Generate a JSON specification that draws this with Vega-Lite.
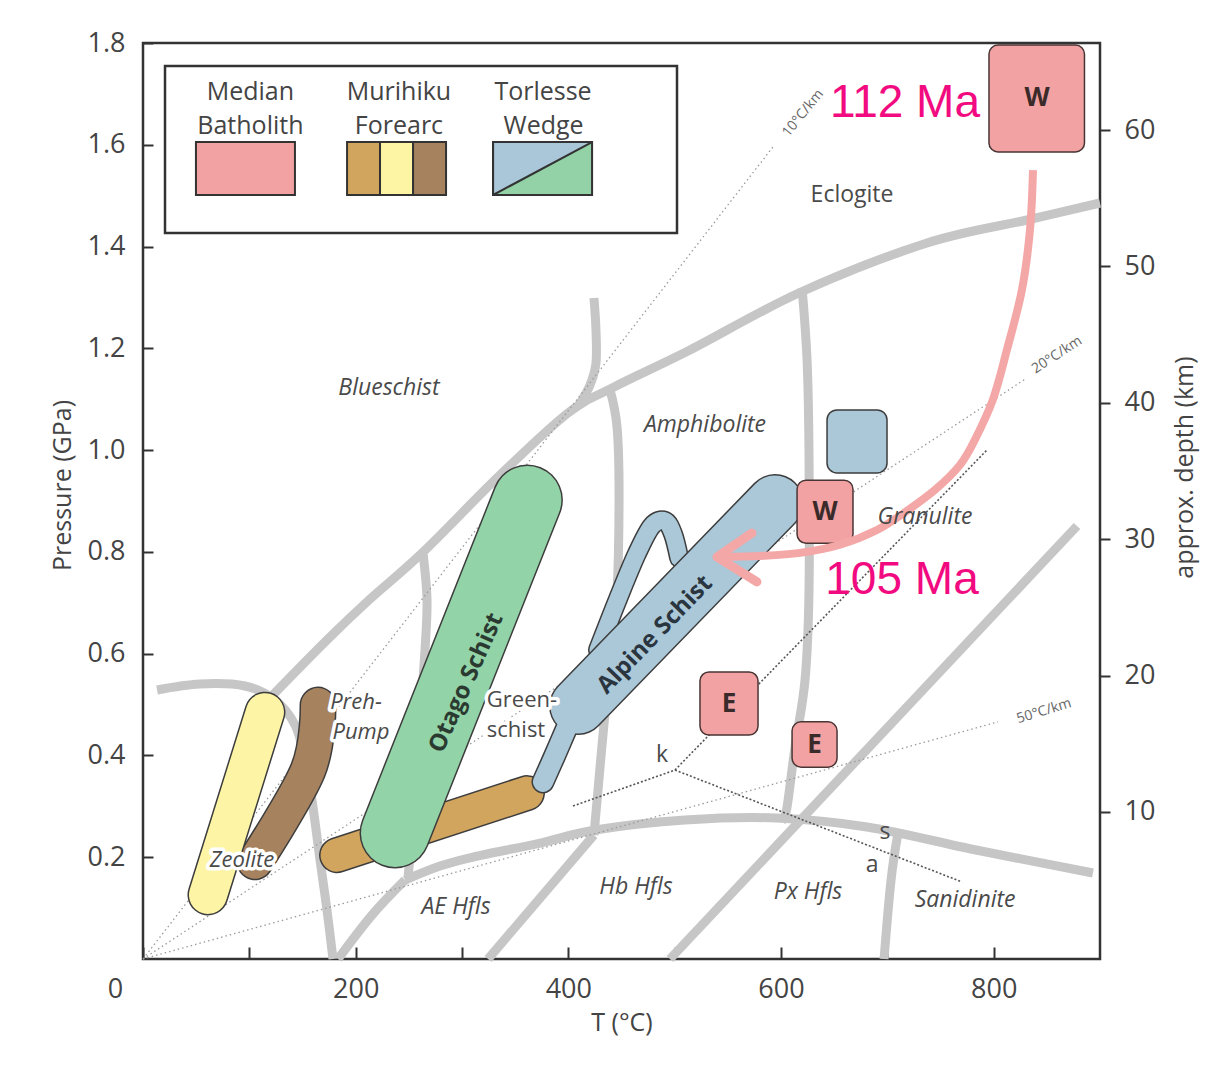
{
"$schema": "https://vega.github.io/schema/vega-lite/v6.json",
"width": 957, "height": 916,
"autosize": "none",
"padding": {"left": 143, "top": 43, "right": 122, "bottom": 106},
"background": "white",
"config": {"view": {"stroke": "#333333", "strokeWidth": 2.5}, "font": "Open Sans"},
"datasets": {
 "facies": [
  {"g":"G1","s":1,"T":13.2,"P":0.5286},{"g":"G1","s":2,"T":53.6,"P":0.5404},{"g":"G1","s":3,"T":95.9,"P":0.5365},{"g":"G1","s":4,"T":124.1,"P":0.5089},{"g":"G1","s":5,"T":143.0,"P":0.4598},{"g":"G1","s":6,"T":152.4,"P":0.391},{"g":"G1","s":7,"T":158.9,"P":0.3124},{"g":"G1","s":8,"T":166.5,"P":0.1945},{"g":"G1","s":9,"T":173.0,"P":0.0963},{"g":"G1","s":10,"T":178.7,"P":0},
  {"g":"G2","s":1,"T":119.4,"P":0.5129},{"g":"G2","s":2,"T":173.0,"P":0.6268},{"g":"G2","s":3,"T":212.5,"P":0.7054},{"g":"G2","s":4,"T":262.4,"P":0.7978},{"g":"G2","s":5,"T":334.8,"P":0.949},{"g":"G2","s":6,"T":399.7,"P":1.0729},{"g":"G2","s":7,"T":443.0,"P":1.124},{"g":"G2","s":8,"T":514.4,"P":1.1967},{"g":"G2","s":9,"T":618.8,"P":1.3107},{"g":"G2","s":10,"T":737.3,"P":1.407},{"g":"G2","s":11,"T":831.4,"P":1.4522},{"g":"G2","s":12,"T":900,"P":1.4856},
  {"g":"G3","s":1,"T":424.1,"P":1.2989},{"g":"G3","s":2,"T":426.0,"P":1.236},{"g":"G3","s":3,"T":426.0,"P":1.1712},{"g":"G3","s":4,"T":420.4,"P":1.1279},{"g":"G3","s":5,"T":410.0,"P":1.0886},
  {"g":"G4","s":1,"T":439.2,"P":1.1181},{"g":"G4","s":2,"T":445.8,"P":1.0454},{"g":"G4","s":3,"T":447.7,"P":0.9157},{"g":"G4","s":4,"T":445.8,"P":0.7192},{"g":"G4","s":5,"T":440.1,"P":0.5875},{"g":"G4","s":6,"T":434.5,"P":0.4834},{"g":"G4","s":7,"T":427.9,"P":0.3321},{"g":"G4","s":8,"T":424.1,"P":0.2437},
  {"g":"G4b","s":1,"T":424.1,"P":0.2437},{"g":"G4b","s":2,"T":324.5,"P":0},
  {"g":"G5","s":1,"T":246.4,"P":0.1552},{"g":"G5","s":2,"T":279.3,"P":0.1827},{"g":"G5","s":3,"T":310.4,"P":0.2004},{"g":"G5","s":4,"T":373.4,"P":0.2279},{"g":"G5","s":5,"T":425.1,"P":0.2535},{"g":"G5","s":6,"T":509.7,"P":0.2731},{"g":"G5","s":7,"T":595.3,"P":0.2771},{"g":"G5","s":8,"T":680.9,"P":0.2594},{"g":"G5","s":9,"T":783.4,"P":0.2142},{"g":"G5","s":10,"T":893.4,"P":0.169},
  {"g":"G6","s":1,"T":246.4,"P":0.1552},{"g":"G6","s":2,"T":215.4,"P":0.0865},{"g":"G6","s":3,"T":183.4,"P":0},
  {"g":"G7","s":1,"T":263.3,"P":0.7978},{"g":"G7","s":2,"T":267.1,"P":0.7054},{"g":"G7","s":3,"T":265.2,"P":0.6072},{"g":"G7","s":4,"T":260.5,"P":0.4696},{"g":"G7","s":5,"T":255.8,"P":0.3124},{"g":"G7","s":6,"T":249.2,"P":0.1592},
  {"g":"G8","s":1,"T":619.8,"P":1.3185},{"g":"G8","s":2,"T":624.5,"P":1.177},{"g":"G8","s":3,"T":626.3,"P":1.0002},{"g":"G8","s":4,"T":626.3,"P":0.7192},{"g":"G8","s":5,"T":622.6,"P":0.5482},{"g":"G8","s":6,"T":613.2,"P":0.4166},{"g":"G8","s":7,"T":605.7,"P":0.2987},{"g":"G8","s":8,"T":601.9,"P":0.2731},
  {"g":"G9","s":1,"T":878.4,"P":0.8509},{"g":"G9","s":2,"T":495.6,"P":0},
  {"g":"G10","s":1,"T":710.0,"P":0.247},{"g":"G10","s":2,"T":703.5,"P":0.1552},{"g":"G10","s":3,"T":696.9,"P":0}
 ],
 "geo": [
  {"g":"10","s":1,"T":0,"P":0},{"g":"10","s":2,"T":594,"P":1.6},
  {"g":"20","s":1,"T":0,"P":0},{"g":"20","s":2,"T":830,"P":1.14},
  {"g":"50","s":1,"T":0,"P":0},{"g":"50","s":2,"T":804,"P":0.466}
 ],
 "klines": [
  {"g":"K1","s":1,"T":404.4,"P":0.3006},{"g":"K1","s":2,"T":500.3,"P":0.3714},
  {"g":"K2","s":1,"T":500.3,"P":0.3714},{"g":"K2","s":2,"T":793.7,"P":1.0002},
  {"g":"K3","s":1,"T":500.3,"P":0.3714},{"g":"K3","s":2,"T":770.2,"P":0.1513}
 ],
 "shapes": [
  {"id":"tan","s":1,"T":182.5,"P":0.204},{"id":"tan","s":2,"T":361.1,"P":0.326},
  {"id":"green","s":1,"T":237.0,"P":0.2476},{"id":"green","s":2,"T":361.5,"P":0.902},
  {"id":"brown","s":1,"T":164.6,"P":0.499},{"id":"brown","s":2,"T":155.2,"P":0.371},{"id":"brown","s":3,"T":105.3,"P":0.191},
  {"id":"yellow","s":1,"T":114.7,"P":0.485},{"id":"yellow","s":2,"T":61.1,"P":0.126},
  {"id":"loop","s":1,"T":427.8,"P":0.607},{"id":"loop","s":2,"T":446.6,"P":0.707},{"id":"loop","s":3,"T":464.4,"P":0.796},{"id":"loop","s":4,"T":478.5,"P":0.851},{"id":"loop","s":5,"T":490.9,"P":0.861},{"id":"loop","s":6,"T":498.5,"P":0.835},{"id":"loop","s":7,"T":504.2,"P":0.788},
  {"id":"tail","s":1,"T":399.7,"P":0.46},{"id":"tail","s":2,"T":387.5,"P":0.401},{"id":"tail","s":3,"T":376.2,"P":0.348},
  {"id":"main","s":1,"T":409.1,"P":0.497},{"id":"main","s":2,"T":594.4,"P":0.896}
 ],
 "boxes": [
  {"id":"Wtop","T":795.6,"T2":885.4,"P":1.796,"P2":1.586},
  {"id":"Wmid","T":615.1,"T2":667.7,"P":0.941,"P2":0.817},
  {"id":"E1","T":523.8,"T2":578.4,"P":0.564,"P2":0.44},
  {"id":"E2","T":610.4,"T2":652.7,"P":0.466,"P2":0.377}
 ],
 "tbox": [{"T":643.3,"T2":699.7,"P":1.079,"P2":0.955}],
 "boxlabels": [
  {"text":"W","T":840.8,"P":1.691},{"text":"W","T":641.4,"P":0.879},
  {"text":"E","T":551.1,"P":0.502},{"text":"E","T":631.6,"P":0.4215}
 ],
 "arrow": [
  {"part":"shaft","s":1,"T":837.0,"P":1.55},{"part":"shaft","s":2,"T":834.2,"P":1.434},{"part":"shaft","s":3,"T":826.7,"P":1.316},{"part":"shaft","s":4,"T":812.6,"P":1.198},{"part":"shaft","s":5,"T":799.4,"P":1.1},{"part":"shaft","s":6,"T":782.5,"P":1.021},{"part":"shaft","s":7,"T":768.4,"P":0.971},{"part":"shaft","s":8,"T":744.9,"P":0.922},{"part":"shaft","s":9,"T":716.6,"P":0.878},{"part":"shaft","s":10,"T":690.3,"P":0.843},{"part":"shaft","s":11,"T":655.5,"P":0.814},{"part":"shaft","s":12,"T":617.9,"P":0.798},{"part":"shaft","s":13,"T":580.3,"P":0.792},{"part":"shaft","s":14,"T":542.7,"P":0.79},
  {"part":"head","s":1,"T":572.7,"P":0.837},{"part":"head","s":2,"T":539.8,"P":0.79},{"part":"head","s":3,"T":577.4,"P":0.741}
 ],
 "labels": [
  {"k":"it","text":"Blueschist","T":231.3,"P":1.122},
  {"k":"it","text":"Amphibolite","T":528.5,"P":1.049},
  {"k":"it","text":"Granulite","T":735.4,"P":0.8685},
  {"k":"it","text":"AE Hfls","T":294.4,"P":0.102},
  {"k":"it","text":"Hb Hfls","T":463.6,"P":0.1415},
  {"k":"it","text":"Px Hfls","T":625.4,"P":0.1317},
  {"k":"it","text":"Sanidinite","T":773.1,"P":0.1159},
  {"k":"ih","text":"Zeolite","T":93.1,"P":0.1945},
  {"k":"ih","text":"Preh-","T":200.3,"P":0.505},
  {"k":"ih","text":"Pump","T":205.0,"P":0.446},
  {"k":"nh","text":"Green-","T":356.4,"P":0.509},
  {"k":"nh","text":"schist","T":350.8,"P":0.45},
  {"k":"n","text":"Eclogite","T":666.8,"P":1.501},
  {"k":"n","text":"k","T":488.1,"P":0.4009},
  {"k":"n","text":"s","T":697.8,"P":0.2496},
  {"k":"n","text":"a","T":685.6,"P":0.1847}
 ],
 "unitlabels": [
  {"text":"Otago Schist","T":304.2,"P":0.5424},
  {"text":"Alpine Schist","T":481.5,"P":0.6367}
 ],
 "ages": [
  {"text":"112 Ma","T":716.6,"P":1.682},
  {"text":"105 Ma","T":713.8,"P":0.745}
 ],
 "geolabels": [
  {"text":"10°C/km","T":620.7,"P":1.662},
  {"text":"20°C/km","T":859.6,"P":1.187},
  {"text":"50°C/km","T":847.4,"P":0.487}
 ],
 "legbox": [{"T":20.7,"T2":502.2,"P":1.7548,"P2":1.4266}],
 "swatch": [
  {"id":"mb","T":49.8,"T2":142.9,"P":1.6054,"P2":1.5013},
  {"id":"mt","T":191.9,"T2":222.9,"P":1.6054,"P2":1.5013},
  {"id":"my","T":222.9,"T2":254.0,"P":1.6054,"P2":1.5013},
  {"id":"mbr","T":254.0,"T2":285.0,"P":1.6054,"P2":1.5013},
  {"id":"tw","T":329.2,"T2":422.3,"P":1.6054,"P2":1.5013}
 ],
 "diag": [{"T":329.2,"P":1.5013},{"T":422.3,"P":1.6054}],
 "legtext": [
  {"text":"Median","T":101.0,"P":1.7037},{"text":"Batholith","T":101.0,"P":1.6369},
  {"text":"Murihiku","T":240.7,"P":1.7037},{"text":"Forearc","T":240.7,"P":1.6369},
  {"text":"Torlesse","T":376.2,"P":1.7037},{"text":"Wedge","T":376.7,"P":1.6369}
 ]
},
"layer": [
 {
  "encoding": {
   "x": {"field":"T","type":"quantitative","scale":{"domain":[0,900],"nice":false,"zero":false},
     "axis":{"title":"T (°C)","values":[0,100,200,300,400,500,600,700,800],"labelExpr":"datum.value % 200 === 0 ? datum.label : ''","format":"d","domain":false,"grid":false,"tickSize":-12,"tickWidth":2,"tickColor":"#333333","labelFont":"Open Sans","labelFontSize":27,"labelColor":"#444444","labelPadding":29,"labelOverlap":false,"labelFlush":false,"labelBound":false,"labelOffset":{"condition":{"test":"datum.value === 0","value":-28},"value":0},"titleFont":"Open Sans","titleFontSize":25,"titleFontWeight":"normal","titleColor":"#444444","titlePadding":8}},
   "y": {"field":"P","type":"quantitative","scale":{"domain":[0,1.8],"nice":false,"zero":false},
     "axis":{"title":"Pressure (GPa)","orient":"left","values":[0.2,0.4,0.6,0.8,1.0,1.2,1.4,1.6,1.8],"format":".1f","domain":false,"grid":false,"tickSize":-10,"tickWidth":2,"tickColor":"#333333","labelFont":"Open Sans","labelFontSize":27,"labelColor":"#444444","labelPadding":28,"labelOverlap":false,"labelFlush":false,"labelBound":false,"titleFont":"Open Sans","titleFontSize":25,"titleFontWeight":"normal","titleColor":"#444444","titlePadding":12,"titleY":442}}
  },
  "layer": [
   {"data":{"name":"facies"},"mark":{"type":"line","color":"#c6c6c6","strokeWidth":9,"strokeCap":"butt","strokeJoin":"round","interpolate":"cardinal"},"encoding":{"detail":{"field":"g"},"order":{"field":"s"}}},
   {"data":{"name":"geo"},"mark":{"type":"line","color":"#9a9a9a","strokeWidth":1.3,"strokeDash":[1.5,3]},"encoding":{"detail":{"field":"g"},"order":{"field":"s"}}},
   {"data":{"name":"klines"},"mark":{"type":"line","color":"#555555","strokeWidth":1.6,"strokeDash":[2,2]},"encoding":{"detail":{"field":"g"},"order":{"field":"s"}}},
   {"data":{"name":"geolabels"},"transform":[{"filter":"datum.text === '10°C/km'"}],"mark":{"type":"text","font":"Open Sans","fontSize":14,"color":"#666666","angle":-51},"encoding":{"text":{"field":"text"}}},
   {"data":{"name":"geolabels"},"transform":[{"filter":"datum.text === '20°C/km'"}],"mark":{"type":"text","font":"Open Sans","fontSize":14,"color":"#666666","angle":-33},"encoding":{"text":{"field":"text"}}},
   {"data":{"name":"geolabels"},"transform":[{"filter":"datum.text === '50°C/km'"}],"mark":{"type":"text","font":"Open Sans","fontSize":14,"color":"#666666","angle":-17},"encoding":{"text":{"field":"text"}}},

   {"data":{"name":"shapes"},"transform":[{"filter":"datum.id === 'tan'"}],"mark":{"type":"line","color":"#3d3d3d","strokeWidth":36,"strokeCap":"round","strokeJoin":"round"},"encoding":{"order":{"field":"s"}}},
   {"data":{"name":"shapes"},"transform":[{"filter":"datum.id === 'tan'"}],"mark":{"type":"line","color":"#d2a55e","strokeWidth":33,"strokeCap":"round","strokeJoin":"round"},"encoding":{"order":{"field":"s"}}},
   {"data":{"name":"shapes"},"transform":[{"filter":"datum.id === 'green'"}],"mark":{"type":"line","color":"#3d3d3d","strokeWidth":71,"strokeCap":"round","strokeJoin":"round"},"encoding":{"order":{"field":"s"}}},
   {"data":{"name":"shapes"},"transform":[{"filter":"datum.id === 'green'"}],"mark":{"type":"line","color":"#93d3a8","strokeWidth":68,"strokeCap":"round","strokeJoin":"round"},"encoding":{"order":{"field":"s"}}},
   {"data":{"name":"shapes"},"transform":[{"filter":"datum.id === 'brown'"}],"mark":{"type":"line","color":"#3d3d3d","strokeWidth":37,"strokeCap":"round","strokeJoin":"round","interpolate":"cardinal"},"encoding":{"order":{"field":"s"}}},
   {"data":{"name":"shapes"},"transform":[{"filter":"datum.id === 'brown'"}],"mark":{"type":"line","color":"#a6825f","strokeWidth":34,"strokeCap":"round","strokeJoin":"round","interpolate":"cardinal"},"encoding":{"order":{"field":"s"}}},
   {"data":{"name":"shapes"},"transform":[{"filter":"datum.id === 'yellow'"}],"mark":{"type":"line","color":"#3d3d3d","strokeWidth":41,"strokeCap":"round","strokeJoin":"round"},"encoding":{"order":{"field":"s"}}},
   {"data":{"name":"shapes"},"transform":[{"filter":"datum.id === 'yellow'"}],"mark":{"type":"line","color":"#fdf5a5","strokeWidth":38,"strokeCap":"round","strokeJoin":"round"},"encoding":{"order":{"field":"s"}}},
   {"data":{"name":"shapes"},"transform":[{"filter":"datum.id === 'loop'"}],"mark":{"type":"line","color":"#3d3d3d","strokeWidth":20,"strokeCap":"round","strokeJoin":"round","interpolate":"cardinal"},"encoding":{"order":{"field":"s"}}},
   {"data":{"name":"shapes"},"transform":[{"filter":"datum.id === 'loop'"}],"mark":{"type":"line","color":"#abc8d9","strokeWidth":17,"strokeCap":"round","strokeJoin":"round","interpolate":"cardinal"},"encoding":{"order":{"field":"s"}}},
   {"data":{"name":"shapes"},"transform":[{"filter":"datum.id === 'tail'"}],"mark":{"type":"line","color":"#3d3d3d","strokeWidth":23,"strokeCap":"round","strokeJoin":"round","interpolate":"cardinal"},"encoding":{"order":{"field":"s"}}},
   {"data":{"name":"shapes"},"transform":[{"filter":"datum.id === 'main'"}],"mark":{"type":"line","color":"#3d3d3d","strokeWidth":58,"strokeCap":"round","strokeJoin":"round"},"encoding":{"order":{"field":"s"}}},
   {"data":{"name":"shapes"},"transform":[{"filter":"datum.id === 'tail'"}],"mark":{"type":"line","color":"#abc8d9","strokeWidth":20,"strokeCap":"round","strokeJoin":"round","interpolate":"cardinal"},"encoding":{"order":{"field":"s"}}},
   {"data":{"name":"shapes"},"transform":[{"filter":"datum.id === 'main'"}],"mark":{"type":"line","color":"#abc8d9","strokeWidth":55,"strokeCap":"round","strokeJoin":"round"},"encoding":{"order":{"field":"s"}}},

   {"data":{"name":"tbox"},"mark":{"type":"rect","fill":"#abc8d9","stroke":"#3d3d3d","strokeWidth":1.5,"cornerRadius":10},"encoding":{"x2":{"field":"T2"},"y2":{"field":"P2"}}},
   {"data":{"name":"boxes"},"mark":{"type":"rect","fill":"#f2a2a2","stroke":"#4a3535","strokeWidth":1.5,"cornerRadius":9},"encoding":{"x2":{"field":"T2"},"y2":{"field":"P2"}}},
   {"data":{"name":"boxlabels"},"mark":{"type":"text","font":"Open Sans","fontWeight":"bold","fontSize":26,"color":"#3a2a2a"},"encoding":{"text":{"field":"text"}}},
   {"data":{"name":"arrow"},"transform":[{"filter":"datum.part === 'shaft'"}],"mark":{"type":"line","color":"#f4a7a7","strokeWidth":8,"strokeCap":"butt","strokeJoin":"round","interpolate":"cardinal"},"encoding":{"order":{"field":"s"}}},
   {"data":{"name":"arrow"},"transform":[{"filter":"datum.part === 'head'"}],"mark":{"type":"line","color":"#f4a7a7","strokeWidth":9,"strokeCap":"round","strokeJoin":"round"},"encoding":{"order":{"field":"s"}}},

   {"data":{"name":"labels"},"transform":[{"filter":"datum.k === 'it'"}],"mark":{"type":"text","font":"Open Sans","fontStyle":"italic","fontSize":23,"color":"#4a4a4a"},"encoding":{"text":{"field":"text"}}},
   {"data":{"name":"labels"},"transform":[{"filter":"datum.k === 'ih'"}],"mark":{"type":"text","font":"Open Sans","fontStyle":"italic","fontSize":22,"color":"white","stroke":"white","strokeWidth":7,"strokeJoin":"round"},"encoding":{"text":{"field":"text"}}},
   {"data":{"name":"labels"},"transform":[{"filter":"datum.k === 'ih'"}],"mark":{"type":"text","font":"Open Sans","fontStyle":"italic","fontSize":22,"color":"#4a4a4a"},"encoding":{"text":{"field":"text"}}},
   {"data":{"name":"labels"},"transform":[{"filter":"datum.k === 'nh'"}],"mark":{"type":"text","font":"Open Sans","fontSize":22,"color":"white","stroke":"white","strokeWidth":7,"strokeJoin":"round"},"encoding":{"text":{"field":"text"}}},
   {"data":{"name":"labels"},"transform":[{"filter":"datum.k === 'nh'"}],"mark":{"type":"text","font":"Open Sans","fontSize":22,"color":"#4a4a4a"},"encoding":{"text":{"field":"text"}}},
   {"data":{"name":"labels"},"transform":[{"filter":"datum.k === 'n'"}],"mark":{"type":"text","font":"Open Sans","fontSize":23,"color":"#4a4a4a"},"encoding":{"text":{"field":"text"}}},
   {"data":{"name":"unitlabels"},"transform":[{"filter":"datum.text === 'Otago Schist'"}],"mark":{"type":"text","font":"Open Sans","fontWeight":"bold","fontSize":24,"color":"#2b3a30","angle":-66},"encoding":{"text":{"field":"text"}}},
   {"data":{"name":"unitlabels"},"transform":[{"filter":"datum.text === 'Alpine Schist'"}],"mark":{"type":"text","font":"Open Sans","fontWeight":"bold","fontSize":24,"color":"#2a3540","angle":-46},"encoding":{"text":{"field":"text"}}},
   {"data":{"name":"ages"},"mark":{"type":"text","font":"Liberation Sans","fontSize":46,"color":"#f20a80"},"encoding":{"text":{"field":"text"}}},

   {"data":{"name":"legbox"},"mark":{"type":"rect","fill":"white","stroke":"#333333","strokeWidth":2.5},"encoding":{"x2":{"field":"T2"},"y2":{"field":"P2"}}},
   {"data":{"name":"swatch"},"mark":{"type":"rect","stroke":"#333333","strokeWidth":2},"encoding":{"x2":{"field":"T2"},"y2":{"field":"P2"},"color":{"field":"id","type":"nominal","scale":{"domain":["mb","mt","my","mbr","tw"],"range":["#f2a2a2","#d2a55e","#fdf5a3","#a6825f","#a9c7d8"]},"legend":null}}},
   {"data":{"name":"diag"},"mark":{"type":"area","color":"#93d2a7"},"encoding":{"y2":{"datum":1.5013}}},
   {"data":{"name":"diag"},"mark":{"type":"line","color":"#333333","strokeWidth":2},"encoding":{}},
   {"data":{"name":"swatch"},"transform":[{"filter":"datum.id === 'tw'"}],"mark":{"type":"rect","fillOpacity":0,"stroke":"#333333","strokeWidth":2},"encoding":{"x2":{"field":"T2"},"y2":{"field":"P2"}}},
   {"data":{"name":"legtext"},"mark":{"type":"text","font":"Open Sans","fontSize":25,"color":"#444444"},"encoding":{"text":{"field":"text"}}}
  ]
 },
 {
  "data": {"values":[{"d":10}]},
  "mark": {"type":"point","opacity":0},
  "encoding": {
   "y": {"field":"d","type":"quantitative","scale":{"domain":[-0.78,66.38],"nice":false,"zero":false},
     "axis":{"orient":"right","title":"approx. depth (km)","values":[10,20,30,40,50,60],"domain":false,"grid":false,"tickSize":10,"tickWidth":2,"tickColor":"#333333","labelFont":"Open Sans","labelFontSize":27,"labelColor":"#444444","labelPadding":14,"labelOverlap":false,"labelFlush":false,"labelBound":false,"titleFont":"Open Sans","titleFontSize":25,"titleFontWeight":"normal","titleColor":"#444444","titleAngle":270,"titleBaseline":"top","titlePadding":18,"titleY":424}}
  }
 }
],
"resolve": {"scale": {"y": "independent"}}
}
